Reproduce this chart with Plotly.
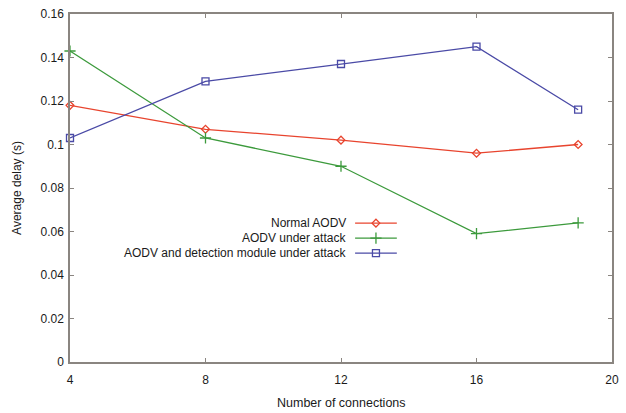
import plotly.graph_objects as go

connections = [4, 8, 12, 16, 19]
normal_aodv = [0.118, 0.107, 0.102, 0.096, 0.100]
aodv_attack = [0.143, 0.103, 0.090, 0.059, 0.064]
aodv_detect = [0.103, 0.129, 0.137, 0.145, 0.116]

series_names = ["Normal AODV", "AODV under attack", "AODV and detection module under attack"]
series_colors = ["#e8442e", "#3c9a3c", "#4a4aa6"]
series_symbols = ["diamond-open", "cross-thin-open", "square-open"]
series_sizes = [6, 8, 7]

x_ticks = [4, 8, 12, 16, 20]
y_ticks = [0, 0.02, 0.04, 0.06, 0.08, 0.1, 0.12, 0.14, 0.16]
y_tick_labels = ["0", "0.02", "0.04", "0.06", "0.08", "0.1", "0.12", "0.14", "0.16"]

FONT = "Liberation Sans, Arial"
TXT = "#1a1a1a"

fig = go.Figure()
for name, ys, col, sym, sz in zip(series_names, [normal_aodv, aodv_attack, aodv_detect],
                                  series_colors, series_symbols, series_sizes):
    fig.add_trace(go.Scatter(
        x=connections, y=ys, name=name, mode="lines+markers",
        line=dict(color=col, width=1.3),
        marker=dict(symbol=sym, size=sz, color=col, line=dict(color=col, width=1.3)),
        showlegend=False, cliponaxis=False))

# custom legend (text right-aligned, sample on the right), in plot-fraction coordinates
legend_rows = [0.399, 0.356, 0.313]
for name, col, sym, sz, yy in zip(series_names, series_colors, series_symbols, series_sizes, legend_rows):
    fig.add_trace(go.Scatter(
        x=[0.526, 0.603], y=[yy, yy], xaxis="x2", yaxis="y2", mode="lines",
        line=dict(color=col, width=1.3), showlegend=False, hoverinfo="skip"))
    fig.add_trace(go.Scatter(
        x=[0.5645], y=[yy], xaxis="x2", yaxis="y2", mode="markers",
        marker=dict(symbol=sym, size=sz, color=col, line=dict(color=col, width=1.3)),
        showlegend=False, hoverinfo="skip"))
    fig.add_annotation(x=0.513, y=yy, xref="x2", yref="y2", text=name, showarrow=False,
                       xanchor="right", yanchor="middle",
                       font=dict(family=FONT, size=12, color=TXT))

fig.add_annotation(x=0.5, y=-0.118, xref="paper", yref="paper", text="Number of connections",
                   showarrow=False, xanchor="center", yanchor="middle",
                   font=dict(family=FONT, size=12.5, color=TXT))
fig.add_annotation(x=-0.098, y=0.5, xref="paper", yref="paper", text="Average delay (s)",
                   showarrow=False, textangle=-90, xanchor="center", yanchor="middle",
                   font=dict(family=FONT, size=12, color=TXT))

axis_common = dict(showline=True, linecolor="#8a8580", linewidth=1.5, mirror="ticks",
                   ticks="inside", ticklen=4, tickcolor="#8a8580", showgrid=False, zeroline=False,
                   automargin=False,
                   tickfont=dict(family=FONT, size=12, color=TXT))

fig.update_layout(
    width=626, height=413,
    margin=dict(l=70, r=14, t=14, b=51, autoexpand=False),
    paper_bgcolor="white", plot_bgcolor="white",
    font=dict(family=FONT, color=TXT),
    xaxis=dict(range=[4, 20], tickvals=x_ticks, ticklabelstandoff=6, **axis_common),
    yaxis=dict(range=[0, 0.16], tickvals=y_ticks, ticktext=y_tick_labels, ticklabelstandoff=2,
               **axis_common),
    xaxis2=dict(range=[0, 1], overlaying="x", visible=False, fixedrange=True),
    yaxis2=dict(range=[0, 1], overlaying="y", visible=False, fixedrange=True),
)

fig.write_html("out.html", config={"displayModeBar": False},
               post_script="document.body.style.margin='0';document.body.style.overflow='hidden';")
